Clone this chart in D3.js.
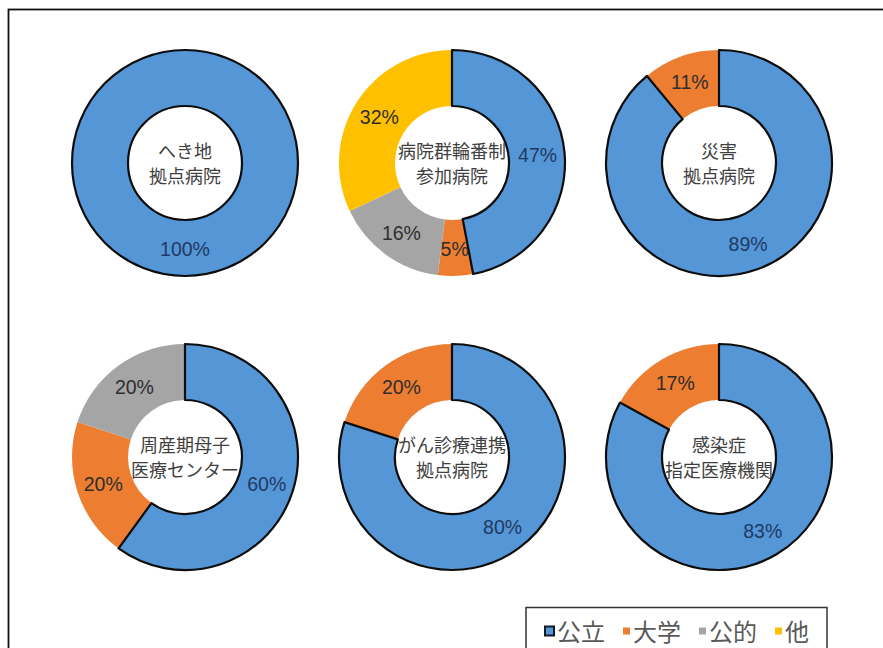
<!DOCTYPE html>
<html><head><meta charset="utf-8">
<script src="https://cdn.jsdelivr.net/npm/d3@7"></script>
<style>body{margin:0;background:#fff}</style>
</head><body><svg id="c" width="883" height="648"></svg>
<script>
// Share of hospitals by founder type, per designated hospital category (%)
const categories = ["公立", "大学", "公的", "他"];
const hospitalTypes = [
  ["へき地", "拠点病院"],
  ["病院群輪番制", "参加病院"],
  ["災害", "拠点病院"],
  ["周産期母子", "医療センター"],
  ["がん診療連携", "拠点病院"],
  ["感染症", "指定医療機関"]
];
const publicShare      = [100, 47, 89, 60, 80, 83];
const universityShare  = [0, 5, 11, 20, 20, 17];
const publicCorpShare  = [0, 16, 0, 20, 0, 0];
const otherShare       = [0, 32, 0, 0, 0, 0];
const colors = ["#5596d6", "#ed7d31", "#a5a5a5", "#ffc000"];

const svg = d3.select("#c");
const jp = "'Noto Sans CJK JP', 'Noto Sans', sans-serif";

// outer frame (continues past the right and bottom edges)
svg.append("rect").attr("x", 8.5).attr("y", 9.5).attr("width", 1000).attr("height", 800)
  .attr("fill", "none").attr("stroke", "#111").attr("stroke-width", 1.8);

const col = d3.scalePoint().domain([0, 1, 2]).range([185, 719]);
const row = d3.scalePoint().domain([0, 1]).range([163, 457]);
const color = d3.scaleOrdinal().domain(categories).range(colors);

const rOuter = 113, rInner = 57;
const arc = d3.arc().innerRadius(rInner).outerRadius(rOuter);
const labelArc = d3.arc().innerRadius(86).outerRadius(86);
const pie = d3.pie().sort(null).value(d => d.value);

hospitalTypes.forEach((name, i) => {
  const series = [publicShare[i], universityShare[i], publicCorpShare[i], otherShare[i]]
    .map((v, k) => ({ cat: categories[k], value: v }));
  const arcs = pie(series).filter(a => a.data.value > 0);
  const g = svg.append("g")
    .attr("transform", `translate(${col(i % 3)},${row(Math.floor(i / 3))})`);

  // non-public slices first, then the outlined public slice on top
  const ordered = arcs.slice().sort((a, b) => (a.data.cat === "公立") - (b.data.cat === "公立"));
  g.selectAll("path.slice").data(ordered).join("path")
    .attr("class", "slice")
    .attr("d", arc)
    .attr("fill", d => color(d.data.cat))
    .attr("stroke", d => d.data.cat === "公立" ? "#0d0d0d" : "none")
    .attr("stroke-width", 2.2)
    .attr("stroke-linejoin", "round");

  g.selectAll("text.pct").data(arcs).join("text")
    .attr("class", "pct")
    .attr("transform", d => `translate(${labelArc.centroid(d)})`)
    .attr("text-anchor", "middle")
    .attr("dominant-baseline", "central")
    .attr("font-family", "'Liberation Sans', Arial, sans-serif")
    .attr("font-size", 19.5)
    .attr("fill", d => d.data.cat === "公立" ? "#1f3a64" : "#2e2e2e")
    .text(d => d.data.value + "%");

  g.selectAll("text.name").data(name).join("text")
    .attr("class", "name")
    .attr("x", 0)
    .attr("y", (d, k) => k === 0 ? -13 : 12)
    .attr("text-anchor", "middle")
    .attr("dominant-baseline", "central")
    .attr("font-family", jp)
    .attr("font-size", 18)
    .attr("fill", "#404040")
    .text(d => d);
});

// legend
const lg = svg.append("g");
lg.append("rect").attr("x", 526).attr("y", 607.5).attr("width", 301).attr("height", 60)
  .attr("fill", "#fff").attr("stroke", "#333").attr("stroke-width", 1.5);
let lx = 545;
const ly = 630;
categories.forEach((c, k) => {
  const first = k === 0;
  const s = first ? 9 : 7;
  lg.append("rect").attr("x", lx).attr("y", ly - s / 2 + 1).attr("width", s).attr("height", s)
    .attr("fill", color(c))
    .attr("stroke", first ? "#0d1a2a" : "none").attr("stroke-width", 2);
  const t = lg.append("text").attr("x", lx + s + 3).attr("y", ly)
    .attr("dominant-baseline", "central")
    .attr("font-family", jp).attr("font-size", 24).attr("fill", "#595959")
    .text(c);
  lx = lx + s + 3 + t.node().getComputedTextLength() + 18;
});
</script></body></html>
